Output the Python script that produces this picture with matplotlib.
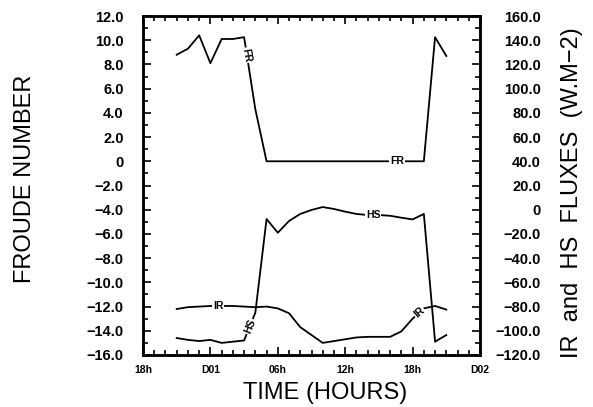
import numpy as np
import matplotlib.pyplot as plt

plt.rcParams["font.family"] = ["Liberation Sans", "DejaVu Sans"]

# time axis: hours after 18h of the first day
hours = np.arange(3, 28)

froude = [8.8, 9.3, 10.4, 8.1, 10.1, 10.1, 10.25, 4.3,
          0, 0, 0, 0, 0, 0, 0, 0, 0, 0, 0, 0, 0, 0, 0,
          10.25, 8.7]

ir_flux = [-82, -80.5, -80, -79.5, -79.5, -79.5, -80, -80.5, -80, -81.5,
           -85.5, -97, -103.5, -110, -108.5, -107, -105.5, -105, -105, -105,
           -100.5, -90, -81.5, -79.5, -82.5]

hs_flux = [-106, -107.5, -108.5, -107.5, -110, -109, -108, -85, -7.7, -19,
           -9.3, -3.5, -0.2, 2.2, 0.6, -1.6, -3.5, -4.4, -4.4, -5,
           -6.6, -8, -3.5, -109, -103.5]

xtick_pos = [0, 6, 12, 18, 24, 30]
xtick_labels = ["18h", "D01", "06h", "12h", "18h", "D02"]


def fmt(v):
    if abs(v) < 1e-9:
        return "0"
    return f"{v:.1f}".replace("-", "\u2212")


fig = plt.figure(figsize=(5.93, 4.07), dpi=100)
ax = fig.add_axes([143 / 593, 1 - 355 / 407, 337 / 593, 339 / 407])
ax2 = ax.twinx()

lw = 1.3
ax.plot(hours, froude, color="black", linewidth=lw)
ax2.plot(hours, ir_flux, color="black", linewidth=lw)
ax2.plot(hours, hs_flux, color="black", linewidth=lw)

ax.set_xlim(0, 30)
ax.set_ylim(-16, 12)
ax2.set_ylim(-120, 160)

ax.set_xticks(xtick_pos)
ax.set_xticklabels(xtick_labels, fontsize=7.5, fontweight="bold")
ax.set_xticks(np.arange(0, 31, 1), minor=True)

left_ticks = np.arange(-16, 13, 2)
ax.set_yticks(left_ticks)
ax.set_yticklabels([fmt(v) for v in left_ticks], fontsize=10.5, fontweight="bold")
ax.set_yticks(np.arange(-16, 13, 1), minor=True)

right_ticks = np.arange(-120, 161, 20)
ax2.set_yticks(right_ticks)
ax2.set_yticklabels([fmt(v) for v in right_ticks], fontsize=10.5,
                    fontweight="bold", ha="right")
ax2.set_yticks(np.arange(-120, 161, 10), minor=True)

ax.tick_params(axis="x", which="both", direction="in", top=True, width=1.2)
ax.tick_params(axis="x", which="major", length=6, pad=7)
ax.tick_params(axis="x", which="minor", length=3.5)
ax.tick_params(axis="y", which="both", direction="in", width=1.2)
ax.tick_params(axis="y", which="major", length=6, pad=14)
ax.tick_params(axis="y", which="minor", length=3.5)
ax2.tick_params(axis="y", which="both", direction="in", width=1.2)
ax2.tick_params(axis="y", which="major", length=6, pad=44)
ax2.tick_params(axis="y", which="minor", length=3.5)

for a in (ax, ax2):
    for s in a.spines.values():
        s.set_linewidth(1.8)

# inline curve labels
box = dict(facecolor="white", edgecolor="none", pad=0.6)
lab = dict(fontsize=7.5, fontweight="bold", ha="center", va="center", bbox=box)


def put(axis, h, series, text, rot):
    axis.text(h, np.interp(h, hours, series), text, rotation=rot, **lab)


put(ax, 9.25, froude, "FR", -80)
put(ax, 22.6, froude, "FR", 0)
put(ax2, 20.5, hs_flux, "HS", 0)
put(ax2, 9.5, hs_flux, "HS", 68)
put(ax2, 6.7, ir_flux, "IR", 0)
put(ax2, 24.6, ir_flux, "IR", 40)

fig.text(25 / 593, 1 - 179 / 407, "FROUDE NUMBER", rotation=90,
         ha="center", va="center", fontsize=17)
fig.text(325 / 593, 1 - 393 / 407, "TIME (HOURS)",
         ha="center", va="center", fontsize=17)
fig.text(572 / 593, 1 - 193 / 407, "IR  and  HS  FLUXES  (W.M\u22122)",
         rotation=90, ha="center", va="center", fontsize=17)

fig.savefig("out.png", dpi=100)
